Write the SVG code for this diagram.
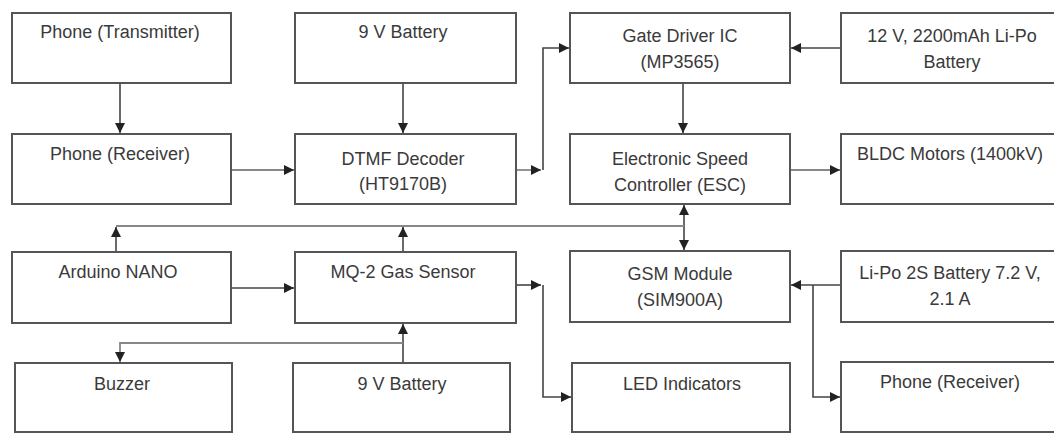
<svg xmlns="http://www.w3.org/2000/svg" width="1054" height="433" viewBox="0 0 1054 433">
<defs>
<style>
.box{fill:#fff;stroke:#555;stroke-width:2}
.t{font-family:"Liberation Sans",Arial,sans-serif;font-size:18px;fill:#3a3a3a;text-anchor:middle}
.c{fill:none;stroke:#444;stroke-width:1.6}
.l{fill:none;stroke:#888;stroke-width:1.8}
</style>
<marker id="a" viewBox="0 0 10 10" refX="10" refY="5" markerWidth="10" markerHeight="10" markerUnits="userSpaceOnUse" orient="auto-start-reverse">
<path d="M0,0 L10,5 L0,10 z" fill="#222"/>
</marker>
</defs>
<rect width="1054" height="433" fill="#fff"/>
<g id="connectors">
<line class="c" x1="120" y1="83" x2="120" y2="133" marker-end="url(#a)"/>
<line class="l" x1="231" y1="170" x2="294" y2="170" marker-end="url(#a)"/>
<line class="c" x1="403" y1="83" x2="403" y2="133" marker-end="url(#a)"/>
<line class="l" x1="516" y1="170" x2="541" y2="170" marker-end="url(#a)"/>
<path class="c" d="M543,170 V48 H569" marker-end="url(#a)"/>
<line class="c" x1="683" y1="83" x2="683" y2="133" marker-end="url(#a)"/>
<line class="c" x1="841" y1="48" x2="791" y2="48" marker-end="url(#a)"/>
<line class="l" x1="790" y1="170" x2="840" y2="170" marker-end="url(#a)"/>
<line class="c" x1="684" y1="205" x2="684" y2="250" marker-start="url(#a)" marker-end="url(#a)"/>
<line class="l" x1="116" y1="226" x2="684" y2="226"/>
<line class="c" x1="116" y1="252" x2="116" y2="227" marker-end="url(#a)"/>
<line class="c" x1="403" y1="252" x2="403" y2="227" marker-end="url(#a)"/>
<line class="c" x1="231" y1="288" x2="294" y2="288" marker-end="url(#a)"/>
<line class="c" x1="403" y1="363" x2="403" y2="324" marker-end="url(#a)"/>
<path class="l" d="M403,343 H120 V362" marker-end="url(#a)"/>
<line class="c" x1="516" y1="285" x2="541" y2="285" marker-end="url(#a)"/>
<path class="c" d="M543,285 V397 H571" marker-end="url(#a)"/>
<line class="c" x1="841" y1="285" x2="791" y2="285" marker-end="url(#a)"/>
<path class="c" d="M813,285 V397 H840" marker-end="url(#a)"/>
</g>
<g id="phone-tx"><rect class="box" x="12" y="13" width="219" height="70"/><text class="t" x="120" y="38">Phone (Transmitter)</text></g>
<g id="phone-rx"><rect class="box" x="12" y="134" width="219" height="70"/><text class="t" x="120" y="160">Phone (Receiver)</text></g>
<g id="battery-9v-top"><rect class="box" x="295" y="13" width="221" height="70"/><text class="t" x="403" y="38">9 V Battery</text></g>
<g id="dtmf"><rect class="box" x="295" y="134" width="221" height="70"/><text class="t" x="403" y="165">DTMF Decoder</text><text class="t" x="403" y="190">(HT9170B)</text></g>
<g id="gate-driver"><rect class="box" x="570" y="13" width="220" height="70"/><text class="t" x="680" y="42">Gate Driver IC</text><text class="t" x="680" y="68">(MP3565)</text></g>
<g id="esc"><rect class="box" x="570" y="134" width="220" height="70"/><text class="t" x="680" y="165">Electronic Speed</text><text class="t" x="680" y="191">Controller (ESC)</text></g>
<g id="lipo-12v"><rect class="box" x="841" y="13" width="220" height="70"/><text class="t" x="952" y="42">12 V, 2200mAh Li-Po</text><text class="t" x="952" y="68">Battery</text></g>
<g id="bldc"><rect class="box" x="841" y="134" width="220" height="70"/><text class="t" x="950" y="160">BLDC Motors (1400kV)</text></g>
<g id="arduino"><rect class="box" x="12" y="252" width="219" height="71"/><text class="t" x="118" y="278">Arduino NANO</text></g>
<g id="mq2"><rect class="box" x="295" y="252" width="221" height="71"/><text class="t" x="403" y="278">MQ-2 Gas Sensor</text></g>
<g id="gsm"><rect class="box" x="570" y="251" width="220" height="71"/><text class="t" x="680" y="280">GSM Module</text><text class="t" x="680" y="306">(SIM900A)</text></g>
<g id="lipo-2s"><rect class="box" x="841" y="251" width="220" height="71"/><text class="t" x="950" y="279">Li-Po 2S Battery 7.2 V,</text><text class="t" x="950" y="305">2.1 A</text></g>
<g id="buzzer"><rect class="box" x="15" y="363" width="217" height="69"/><text class="t" x="122" y="390">Buzzer</text></g>
<g id="battery-9v-bottom"><rect class="box" x="293" y="363" width="217" height="69"/><text class="t" x="402" y="390">9 V Battery</text></g>
<g id="led"><rect class="box" x="572" y="363" width="218" height="69"/><text class="t" x="682" y="390">LED Indicators</text></g>
<g id="phone-rx-2"><rect class="box" x="841" y="362" width="220" height="70"/><text class="t" x="950" y="388">Phone (Receiver)</text></g>
</svg>
